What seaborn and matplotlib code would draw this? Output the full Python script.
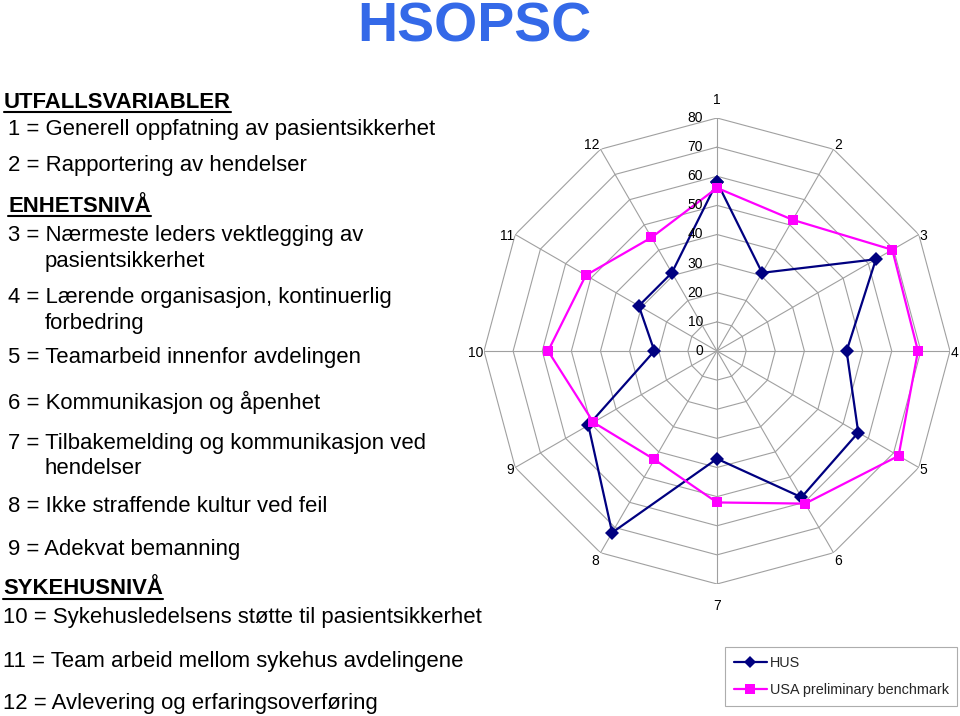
import numpy as np
import pandas as pd
import matplotlib
matplotlib.use("Agg")
import matplotlib.pyplot as plt
from matplotlib.lines import Line2D
import seaborn as sns

# ===================== data =====================
axis_labels = ["1", "2", "3", "4", "5", "6", "7", "8", "9", "10", "11", "12"]
hus_values = [58, 31, 63, 44.5, 56, 58, 37, 72, 51, 21.5, 31, 31]
usa_values = [56, 52, 69.5, 69, 72, 60.5, 52, 43, 49, 58, 52, 45]
series_names = ["HUS", "USA preliminary benchmark"]
ring_ticks = [0, 10, 20, 30, 40, 50, 60, 70, 80]

left_lines = [
    ("UTFALLSVARIABLER", "head", 4, 102),
    ("1 = Generell oppfatning av pasientsikkerhet", "text", 8, 129),
    ("2 = Rapportering av hendelser", "text", 8, 165),
    ("ENHETSNIVÅ", "head", 8, 206),
    ("3 = Nærmeste leders vektlegging av", "text", 8, 235),
    ("pasientsikkerhet", "text", 45, 261),
    ("4 = Lærende organisasjon, kontinuerlig", "text", 8, 297),
    ("forbedring", "text", 45, 323),
    ("5 = Teamarbeid innenfor avdelingen", "text", 8, 358),
    ("6 = Kommunikasjon og åpenhet", "text", 8, 402),
    ("7 = Tilbakemelding og kommunikasjon ved", "text", 8, 443),
    ("hendelser", "text", 45, 469),
    ("8 = Ikke straffende kultur ved feil", "text", 8, 506),
    ("9 = Adekvat bemanning", "text", 8, 549),
    ("SYKEHUSNIVÅ", "head", 3, 589),
    ("10 = Sykehusledelsens støtte til pasientsikkerhet", "text", 3, 617),
    ("11 = Team arbeid mellom sykehus avdelingene", "text", 3, 661),
    ("12 = Avlevering og erfaringsoverføring", "text", 3, 703),
]

sns.set_theme(style="white")
plt.rcParams["font.family"] = ["Liberation Sans", "DejaVu Sans"]

W, H = 960, 716
fig = plt.figure(figsize=(W / 100, H / 100), dpi=100)

# ===================== radar =====================
cx, cy, R = 717, 351, 233
ax = fig.add_axes([(cx - R) / W, 1 - (cy + R) / H, 2 * R / W, 2 * R / H], projection="polar")
ax.set_theta_zero_location("N")
ax.set_theta_direction(-1)
ax.set_ylim(0, 80)
ax.grid(False)
ax.spines["polar"].set_visible(False)
ax.set_xticks([])
ax.set_yticks([])
ax.set_facecolor("white")

n = len(axis_labels)
theta = np.arange(n) * 2 * np.pi / n
theta_closed = np.append(theta, theta[0])

# polygon grid, Excel radar style
grid_col = "#a0a0a0"
for r in ring_ticks[1:]:
    ax.plot(theta_closed, [r] * (n + 1), color=grid_col, lw=0.8, zorder=1)
for t in theta:
    ax.plot([t, t], [0, ring_ticks[-1]], color=grid_col, lw=0.8, zorder=1)

df = pd.DataFrame({
    "theta": np.concatenate([theta_closed, theta_closed]),
    "value": hus_values + hus_values[:1] + usa_values + usa_values[:1],
    "series": [series_names[0]] * (n + 1) + [series_names[1]] * (n + 1),
})
palette = {series_names[0]: "#000080", series_names[1]: "#FF00FF"}
sns.lineplot(data=df, x="theta", y="value", hue="series", style="series",
             markers={series_names[0]: "D", series_names[1]: "s"},
             dashes=False, sort=False, estimator=None, palette=palette,
             linewidth=1.6, markersize=7, markeredgewidth=0, legend=False,
             ax=ax, zorder=3)
ax.set_xlabel("")
ax.set_ylabel("")

for v in ring_ticks:
    ax.annotate(str(v), xy=(0, v), xytext=(-14, 0), textcoords="offset pixels",
                ha="right", va="center", fontsize=10, color="black")

for t, lab in zip(theta, axis_labels):
    s, c = np.sin(t), np.cos(t)
    ha = "left" if s > 0.1 else ("right" if s < -0.1 else "center")
    dx = 1 if s > 0.1 else (-1 if s < -0.1 else 0)
    dy = 20 * np.sign(c) * abs(c) ** 8 - 2
    ax.annotate(lab, xy=(t, 80), xytext=(dx, dy), textcoords="offset pixels",
                ha=ha, va="center", fontsize=10, color="black")

# legend
handles = [
    Line2D([], [], color="#000080", marker="D", markersize=6, markeredgewidth=0, lw=1.6),
    Line2D([], [], color="#FF00FF", marker="s", markersize=7, markeredgewidth=0, lw=1.6),
]
leg = fig.legend(handles, series_names, loc="upper left",
                 bbox_to_anchor=(725 / W, 1 - 647 / H), frameon=True, fancybox=False,
                 prop={"size": 10.4},
                 handlelength=2.3, handletextpad=0.2, borderpad=0.6, labelspacing=0.95,
                 borderaxespad=0)
leg.get_frame().set_edgecolor("#999999")
leg.get_frame().set_linewidth(0.8)

# title
fig.text(474 / W, 1 - 41 / H, "HSOPSC", ha="center", va="baseline",
         fontsize=40, fontweight="bold", color="#3469E8")

# left legend text
renderer = fig.canvas.get_renderer()
for txt, kind, x, y in left_lines:
    t = fig.text(x / W, 1 - y / H, txt, ha="left", va="center", fontsize=15.9,
                 fontweight="bold" if kind == "head" else "normal", color="black")
    if kind == "head":
        bb = t.get_window_extent(renderer)
        yl = bb.y0 + 1
        fig.add_artist(Line2D([bb.x0 / W, bb.x1 / W], [yl / H, yl / H],
                              color="black", lw=1.5))

fig.savefig("out.png", dpi=100)
